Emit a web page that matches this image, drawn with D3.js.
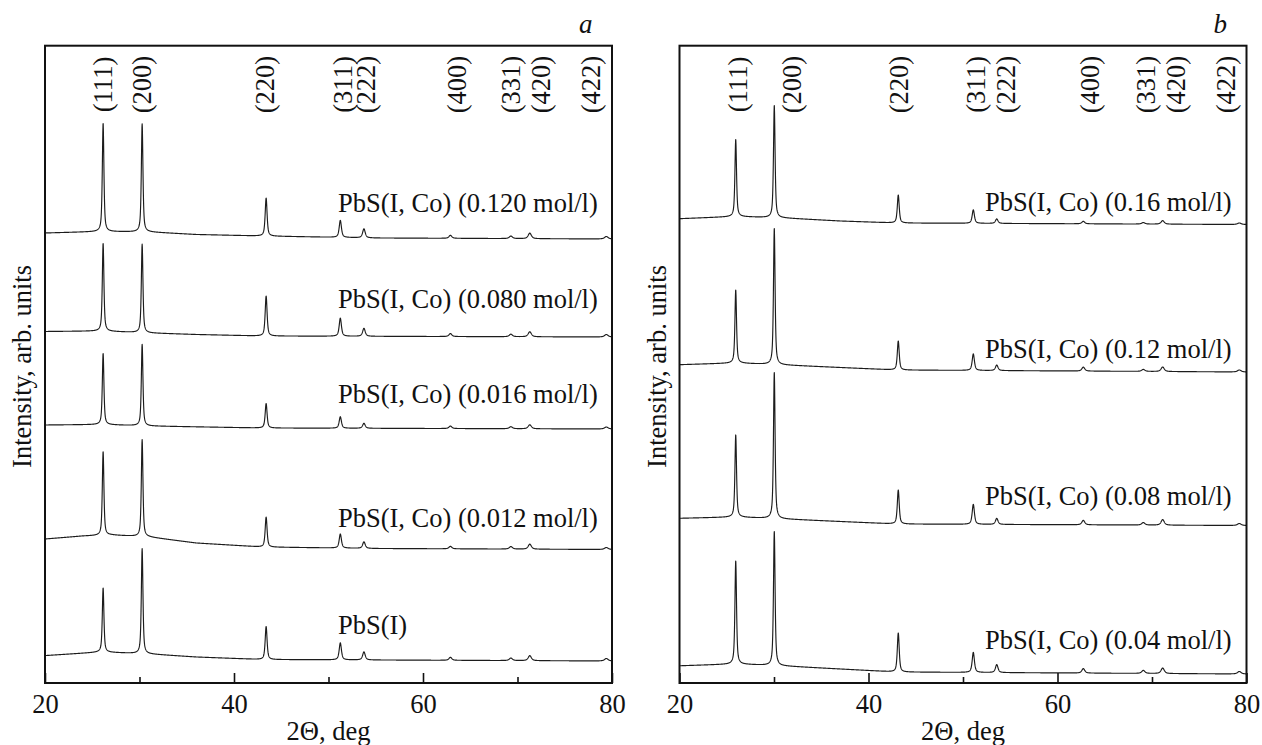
<!DOCTYPE html>
<html>
<head>
<meta charset="utf-8">
<script src="https://cdn.jsdelivr.net/npm/d3@7/dist/d3.min.js"></script>
<style>
  html, body { margin: 0; padding: 0; background: #fff; }
  svg { display: block; }
  text { font-family: "Liberation Serif", "Times New Roman", serif; fill: #111; }
</style>
</head>
<body>
<script>
// ---------------- data ----------------
const thetaDomain = [20, 80];
const majorTicks = [20, 40, 60, 80];
const minorTicks = [30, 50, 70];

const hkl = ["(111)", "(200)", "(220)", "(311)", "(222)", "(400)", "(331)", "(420)", "(422)"];
// reflection positions, 2Θ (deg)
const peakPosA = [26.15, 30.28, 43.4, 51.25, 53.75, 62.9, 69.3, 71.3, 79.4];
const peakPosB = [25.95, 30.03, 43.15, 51.09, 53.57, 62.73, 69.08, 71.13, 79.24];
// peak full widths at half maximum, deg
const peakFwhm = [0.2, 0.2, 0.24, 0.28, 0.32, 0.36, 0.4, 0.4, 0.45];
// where the (hkl) index labels sit, 2Θ
const hklLabelPosA = [26.35, 30.48, 43.49, 51.75, 54.18, 63.81, 69.52, 72.7, 77.99];
const hklLabelPosB = [26.35, 32.12, 43.42, 51.59, 54.76, 63.65, 69.58, 72.75, 78.04];

// panel a: peak intensities above background (arb. units) and background points [2Θ, I]
const namesA = ["PbS(I, Co) (0.120 mol/l)", "PbS(I, Co) (0.080 mol/l)", "PbS(I, Co) (0.016 mol/l)", "PbS(I, Co) (0.012 mol/l)", "PbS(I)"];
const peaksA120 = [108, 108, 38, 17, 9, 3, 2.5, 5.5, 2.5];
const peaksA080 = [87.5, 88.5, 40, 18, 8, 3, 2.5, 5, 2.5];
const peaksA016 = [71, 81.5, 24.5, 11.5, 5, 2.5, 2, 4, 2];
const peaksA012 = [83.5, 97, 30, 14, 6.5, 2.5, 2.5, 5, 2];
const peaksA000 = [64, 105, 33, 17, 8, 3, 2.5, 5, 2.5];
const backA120 = [[20, 450], [26, 451.5], [31, 451], [36, 448.5], [43, 447], [55, 445], [80, 444]];
const backA080 = [[20, 351.5], [26, 352], [31, 350], [36, 348.5], [43, 347], [80, 346]];
const backA016 = [[20, 258], [26, 258.5], [31, 257], [43, 255], [80, 254]];
const backA012 = [[20, 144], [24, 147], [27, 148], [31, 146], [36, 140], [43, 136], [55, 134.5], [80, 133.5]];
const backA000 = [[20, 27.4], [26, 31], [31, 29], [36, 26], [43, 23.5], [80, 22]];

// panel b
const namesB = ["PbS(I, Co) (0.16 mol/l)", "PbS(I, Co) (0.12 mol/l)", "PbS(I, Co) (0.08 mol/l)", "PbS(I, Co) (0.04 mol/l)"];
const peaksB16 = [77, 112, 28, 13.5, 4.5, 2.5, 1.5, 3.5, 1.5];
const peaksB12 = [73, 136, 29, 16.5, 5.5, 4, 2, 4.5, 2];
const peaksB08 = [82, 146, 34, 20, 6, 4.5, 2.5, 5.5, 2];
const peaksB04 = [103, 134, 39, 20, 8, 4.5, 3, 5.5, 2.5];
const backB16 = [[20, 464.3], [26, 466.5], [31, 465], [37, 462], [43, 460], [80, 458.5]];
const backB12 = [[20, 318.3], [26, 320], [31, 318], [43, 313], [80, 311]];
const backB08 = [[20, 164.7], [26, 166], [31, 164], [43, 159], [80, 157.5]];
const backB04 = [[20, 17.2], [26, 19], [31, 17], [43, 11], [80, 9]];

// ---------------- layout ----------------
const W = 1262, H = 745;
const frameTop = 45.7, frameBottom = 683;
const fontSize = 26.5;
const intensityMax = 637.3;

const panels = [
  {
    letter: "a", left: 45, right: 612,
    pos: peakPosA, hklPos: hklLabelPosA,
    patterns: [
      { name: namesA[0], peaks: peaksA120, back: backA120, label: [51.0, 471.3] },
      { name: namesA[1], peaks: peaksA080, back: backA080, label: [51.0, 375] },
      { name: namesA[2], peaks: peaksA016, back: backA016, label: [51.0, 280.3] },
      { name: namesA[3], peaks: peaksA012, back: backA012, label: [51.0, 156.3] },
      { name: namesA[4], peaks: peaksA000, back: backA000, label: [51.0, 49] }
    ]
  },
  {
    letter: "b", left: 679.5, right: 1246.5,
    pos: peakPosB, hklPos: hklLabelPosB,
    patterns: [
      { name: namesB[0], peaks: peaksB16, back: backB16, label: [52.33, 472.3] },
      { name: namesB[1], peaks: peaksB12, back: backB12, label: [52.33, 324.7] },
      { name: namesB[2], peaks: peaksB08, back: backB08, label: [52.33, 178] },
      { name: namesB[3], peaks: peaksB04, back: backB04, label: [52.33, 33.7] }
    ]
  }
];

const svg = d3.select("body").append("svg")
  .attr("width", W).attr("height", H)
  .attr("viewBox", `0 0 ${W} ${H}`);

// pseudo-Voigt line profile
function profile(t, center, fwhm) {
  const u = (t - center) / fwhm;
  const lor = 1 / (1 + 4 * u * u);
  const gau = Math.exp(-4 * Math.LN2 * u * u);
  return 0.65 * lor + 0.35 * gau;
}

const y = d3.scaleLinear().domain([0, intensityMax]).range([frameBottom, frameTop]);

panels.forEach((p, pi) => {
  const x = d3.scaleLinear().domain(thetaDomain).range([p.left, p.right]);
  const g = svg.append("g").attr("class", "panel-" + p.letter);

  const clipId = "clip-" + p.letter;
  svg.append("clipPath").attr("id", clipId)
    .append("rect")
    .attr("x", p.left).attr("y", frameTop)
    .attr("width", p.right - p.left).attr("height", frameBottom - frameTop);

  // sampling grid in 2Θ, including every reflection centre so apexes are hit exactly
  const grid = Array.from(new Set(d3.range(thetaDomain[0], thetaDomain[1] + 1e-9, 0.02)
    .map(v => +v.toFixed(3)).concat(p.pos))).sort((a, b) => a - b);

  const line = d3.line().x(d => x(d[0])).y(d => y(d[1]));

  p.patterns.forEach(pat => {
    const bg = d3.scaleLinear()
      .domain(pat.back.map(d => d[0]))
      .range(pat.back.map(d => d[1]))
      .clamp(true);
    const pts = grid.map(t => {
      let v = bg(t);
      for (let k = 0; k < p.pos.length; k++) {
        v += pat.peaks[k] * profile(t, p.pos[k], peakFwhm[k]);
      }
      return [t, v];
    });
    g.append("path")
      .datum(pts)
      .attr("clip-path", `url(#${clipId})`)
      .attr("fill", "none")
      .attr("stroke", "#1c1c1c")
      .attr("stroke-width", 1.15)
      .attr("stroke-linejoin", "round")
      .attr("d", line);

    g.append("text")
      .attr("x", x(pat.label[0]))
      .attr("y", y(pat.label[1]))
      .attr("font-size", fontSize)
      .text(pat.name);
  });

  // (hkl) indices, rotated
  g.selectAll("text.hkl")
    .data(hkl)
    .join("text")
    .attr("class", "hkl")
    .attr("font-size", fontSize)
    .attr("text-anchor", "middle")
    .attr("dy", "0.27em")
    .attr("transform", (d, i) => `translate(${x(p.hklPos[i])},${84.5}) rotate(-90)`)
    .text(d => d);

  // bottom axis with inward ticks
  const axMajor = d3.axisBottom(x).tickValues(majorTicks).tickSize(-10).tickPadding(11.5)
    .tickFormat(d3.format("d"));
  const axMinor = d3.axisBottom(x).tickValues(minorTicks).tickSize(-6).tickFormat("");
  const gMaj = g.append("g").attr("transform", `translate(0,${frameBottom})`).call(axMajor);
  const gMin = g.append("g").attr("transform", `translate(0,${frameBottom})`).call(axMinor);
  [gMaj, gMin].forEach(a => {
    a.select(".domain").remove();
    a.selectAll(".tick line").attr("stroke", "#111").attr("stroke-width", 1.6);
  });
  gMaj.selectAll(".tick text")
    .attr("font-size", fontSize)
    .attr("font-family", "Liberation Serif, Times New Roman, serif")
    .attr("fill", "#111");

  // frame
  g.append("rect")
    .attr("x", p.left).attr("y", frameTop)
    .attr("width", p.right - p.left).attr("height", frameBottom - frameTop)
    .attr("fill", "none").attr("stroke", "#111").attr("stroke-width", 2);

  // axis titles
  g.append("text")
    .attr("x", (p.left + p.right) / 2)
    .attr("y", 740)
    .attr("text-anchor", "middle")
    .attr("font-size", fontSize)
    .text("2Θ, deg");

  g.append("text")
    .attr("transform", `translate(${p.left - 14},${366.5}) rotate(-90)`)
    .attr("text-anchor", "middle")
    .attr("font-size", fontSize)
    .text("Intensity, arb. units");

  // panel letter
  g.append("text")
    .attr("x", p.right - 33)
    .attr("y", 33)
    .attr("font-size", 27)
    .attr("font-style", "italic")
    .text(p.letter);
});
</script>
</body>
</html>
